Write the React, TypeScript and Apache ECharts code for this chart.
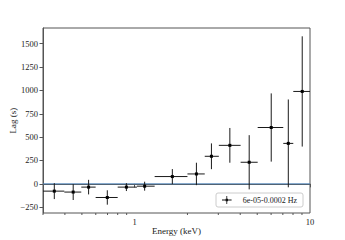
import React, { useEffect, useRef } from 'react';
import * as echarts from 'echarts';

const energyCenter = [0.348, 0.446, 0.546, 0.698, 0.897, 1.14, 1.64, 2.25, 2.74, 3.49, 4.5, 6.01, 7.52, 9.03];
const energyLow = [0.3, 0.397, 0.496, 0.599, 0.8, 1.03, 1.3, 2.0, 2.51, 3.02, 4.02, 5.03, 7.04, 8.03];
const energyHigh = [0.397, 0.496, 0.599, 0.8, 1.03, 1.3, 2.0, 2.51, 3.02, 4.02, 5.03, 7.04, 8.03, 10.0];
const lag = [-78, -88, -35, -146, -35, -25, 78, 106, 295, 412, 231, 603, 433, 989];
const lagErr = [85, 85, 78, 77, 42, 48, 80, 120, 138, 186, 290, 365, 470, 590];

const yTicks = [-250, 0, 250, 500, 750, 1000, 1250, 1500];
const xMajorTicks = [1, 10];
const xMinorTicks = [0.3, 0.4, 0.5, 0.6, 0.7, 0.8, 0.9, 2, 3, 4, 5, 6, 7, 8, 9];
const seriesName = '6e-05-0.0002 Hz';

const FONT = '"Liberation Serif", "DejaVu Serif", serif';

export default function App() {
  const ref = useRef<HTMLDivElement>(null);
  useEffect(() => {
    if (!ref.current) return;
    document.body.style.margin = '0';
    const chart = echarts.init(ref.current, null, { renderer: 'svg' });
    const xMin = 0.3;
    const xMax = 10;
    const yMin = -312;
    const yMax = 1668;
    const data = energyCenter.map((c, i) => [c, energyLow[i], energyHigh[i], lag[i], lagErr[i]]);
    chart.setOption({
      animation: false,
      grid: {
        left: 43,
        right: 35,
        top: 28,
        bottom: 27,
        containLabel: false,
        outerBoundsMode: 'none',
        show: true,
        borderColor: '#555',
        borderWidth: 1,
        backgroundColor: 'transparent',
      },
      legend: {
        left: 216,
        top: 193,
        orient: 'horizontal',
        padding: [3, 6, 3, 6],
        itemWidth: 12,
        itemHeight: 8,
        borderColor: '#ccc',
        borderWidth: 1,
        borderRadius: 2,
        backgroundColor: 'rgba(255,255,255,0.8)',
        textStyle: { fontFamily: FONT, fontSize: 8, color: '#222', padding: [0, 0, 0, 5] },
        data: [
          {
            name: seriesName,
            icon: 'path://M0,4.5L12,4.5L12,5.5L0,5.5Z M5.5,0L6.5,0L6.5,10L5.5,10Z M4.5,3.5L7.5,3.5L7.5,6.5L4.5,6.5Z',
          },
        ],
      },
      xAxis: {
        type: 'log',
        logBase: 10,
        min: xMin,
        max: xMax,
        name: 'Energy (keV)',
        nameLocation: 'middle',
        nameGap: 13,
        nameMoveOverlap: false,
        nameTextStyle: { fontFamily: FONT, fontSize: 9, color: '#222' },
        axisLine: { show: true, lineStyle: { color: '#555', width: 1 } },
        axisTick: { show: true, customValues: xMajorTicks, length: 3.5, lineStyle: { color: '#555' } },
        axisLabel: {
          customValues: xMajorTicks,
          fontFamily: FONT,
          fontSize: 8.5,
          color: '#222',
          margin: 4,
          formatter: (v: number) => String(v),
        },
        splitLine: { show: false },
        minorTick: { show: false },
      },
      yAxis: {
        type: 'value',
        min: yMin,
        max: yMax,
        name: 'Lag (s)',
        nameLocation: 'middle',
        nameGap: 26,
        nameMoveOverlap: false,
        nameTextStyle: { fontFamily: FONT, fontSize: 9, color: '#222' },
        axisLine: { show: true, lineStyle: { color: '#555', width: 1 } },
        axisTick: { show: true, customValues: yTicks, length: 3.5, lineStyle: { color: '#555' } },
        axisLabel: {
          customValues: yTicks,
          fontFamily: FONT,
          fontSize: 8.5,
          color: '#222',
          margin: 5,
          formatter: (v: number) => (v < 0 ? '\u2212' + Math.abs(v) : String(v)),
        },
        splitLine: { show: false },
      },
      series: [
        {
          type: 'line',
          name: 'zero',
          data: [[xMin, 0], [xMax, 0]],
          showSymbol: false,
          symbol: 'none',
          lineStyle: { color: '#4a7fb5', width: 1 },
          z: 1,
          silent: true,
        },
        {
          type: 'custom',
          name: 'minorTicks',
          data: xMinorTicks.map((v) => [v, yMin]),
          encode: { x: 0, y: 1 },
          clip: false,
          silent: true,
          renderItem: (params: any, api: any) => {
            const p = api.coord([api.value(0), api.value(1)]);
            return {
              type: 'line',
              shape: { x1: p[0], y1: p[1], x2: p[0], y2: p[1] + 2 },
              style: { stroke: '#555', lineWidth: 1 },
            };
          },
        },
        {
          type: 'custom',
          name: seriesName,
          data,
          encode: { x: 0, y: 3 },
          itemStyle: { color: '#111' },
          z: 3,
          renderItem: (params: any, api: any) => {
            const c = api.coord([api.value(0), api.value(3)]);
            const l = api.coord([api.value(1), api.value(3)]);
            const h = api.coord([api.value(2), api.value(3)]);
            const t = api.coord([api.value(0), api.value(3) + api.value(4)]);
            const b = api.coord([api.value(0), api.value(3) - api.value(4)]);
            const stroke = '#1a1a1a';
            return {
              type: 'group',
              children: [
                { type: 'line', shape: { x1: l[0], y1: c[1], x2: h[0], y2: c[1] }, style: { stroke, lineWidth: 1 } },
                { type: 'line', shape: { x1: c[0], y1: t[1], x2: c[0], y2: b[1] }, style: { stroke, lineWidth: 1 } },
                { type: 'rect', shape: { x: c[0] - 1.5, y: c[1] - 1.5, width: 3, height: 3 }, style: { fill: '#000' } },
              ],
            };
          },
        },
      ],
    });
    return () => chart.dispose();
  }, []);
  return <div ref={ref} style={{ width: 345, height: 240 }} />;
}
